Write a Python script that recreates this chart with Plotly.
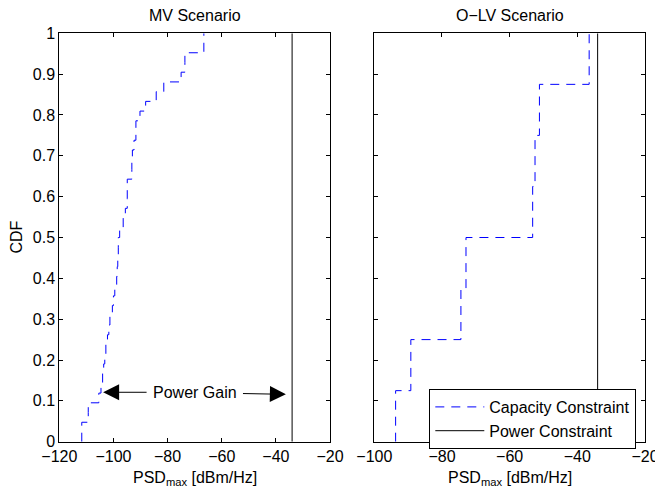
import plotly.graph_objects as go

# ---------------- data ----------------
# MV scenario: sample values of PSD_max (dBm/Hz), read off the empirical CDF
mv_psd = [-111.7, -111.7, -109.3, -109.3, -105.4, -104.6, -104.0, -103.6, -103.2,
          -102.8, -102.2, -101.7, -101.3, -100.4, -100.0, -99.5, -98.8, -98.6,
          -98.4, -98.2, -98.2, -97.7, -96.4, -95.6, -94.9, -94.9, -94.9, -93.2,
          -93.2, -93.0, -92.4, -91.7, -91.7, -90.2, -88.1, -84.2, -81.4, -75.0,
          -73.6, -73.6, -66.6, -66.6]
# O-LV scenario samples
olv_psd = [-93.7, -89.2, -74.4, -72.9, -53.2, -52.5, -51.2, -36.5]
# Power constraint level (dBm/Hz)
power_constraint = -34.0
cdf_limits = [0, 1]

x_ticks_mv = [-120, -100, -80, -60, -40, -20]
x_ticks_olv = [-100, -80, -60, -40, -20]
y_ticks = [0, 0.1, 0.2, 0.3, 0.4, 0.5, 0.6, 0.7, 0.8, 0.9, 1]

# annotation ("Power Gain") positions in data units
gain_text = "Power Gain"
gain_text_pos = (-69.7, 0.12)
gain_left_arrow = ((-103.8, 0.121), (-87.2, 0.121))   # (tip, tail)
gain_right_arrow = ((-36.3, 0.116), (-52.7, 0.118))   # (tip, tail)


def ecdf_stairs(samples):
    s = sorted(samples)
    n = len(s)
    xs = [s[0]] + s
    ys = [0.0] + [(i + 1) / n for i in range(n)]
    return xs, ys


FONT = "Liberation Sans, Arial, Helvetica, sans-serif"
BLUE = "rgb(0,0,255)"
DASH = "9px,7px"

fig = go.Figure()

mx, my = ecdf_stairs(mv_psd)
ox, oy = ecdf_stairs(olv_psd)

fig.add_trace(go.Scatter(x=mx, y=my, mode="lines", line_shape="hv",
                         line=dict(color=BLUE, width=1, dash=DASH),
                         showlegend=False, xaxis="x", yaxis="y"))
fig.add_trace(go.Scatter(x=[power_constraint, power_constraint], y=cdf_limits,
                         mode="lines", line=dict(color="black", width=1),
                         showlegend=False, xaxis="x", yaxis="y"))
fig.add_trace(go.Scatter(x=ox, y=oy, mode="lines", line_shape="hv",
                         line=dict(color=BLUE, width=1, dash=DASH),
                         name="Capacity Constraint", xaxis="x2", yaxis="y2"))
fig.add_trace(go.Scatter(x=[power_constraint, power_constraint], y=cdf_limits,
                         mode="lines", line=dict(color="black", width=1),
                         name="Power Constraint", xaxis="x2", yaxis="y2"))

W, H = 655, 489
L1, R1 = 59.3, 330.0
L2, R2 = 374.3, 645.0
TOP, BOT = 33.3, 441.7

axis_common = dict(showline=True, linecolor="black", linewidth=1, mirror="ticks",
                   ticks="inside", ticklen=4, tickcolor="black", tickwidth=1,
                   showgrid=False, zeroline=False, automargin=False,
                   ticklabeloverflow="allow",
                   tickfont=dict(family=FONT, size=16, color="black"))

fig.update_layout(
    template="none",
    width=W, height=H,
    margin=dict(l=0, r=0, t=0, b=0, pad=0),
    paper_bgcolor="white", plot_bgcolor="white",
    font=dict(family=FONT, size=16, color="black"),
    xaxis=dict(domain=[L1 / W, R1 / W], range=[x_ticks_mv[0], x_ticks_mv[-1]],
               tickvals=x_ticks_mv, anchor="y", **axis_common),
    yaxis=dict(domain=[1 - BOT / H, 1 - TOP / H], range=cdf_limits,
               tickvals=y_ticks, anchor="x", **axis_common),
    xaxis2=dict(domain=[L2 / W, R2 / W], range=[x_ticks_olv[0], x_ticks_olv[-1]],
                tickvals=x_ticks_olv, anchor="y2", **axis_common),
    yaxis2=dict(domain=[1 - BOT / H, 1 - TOP / H], range=cdf_limits,
                tickvals=y_ticks, anchor="x2", showticklabels=False, **axis_common),
    legend=dict(x=429.3 / W, y=1 - 389 / H, xanchor="left", yanchor="top",
                bgcolor="white", bordercolor="black", borderwidth=1,
                font=dict(family=FONT, size=16, color="black"),
                tracegroupgap=0, itemwidth=49),
    showlegend=True,
)

annotations = [
    dict(text="MV Scenario", x=(L1 + R1) / 2 / W, y=1 - 15 / H, xref="paper", yref="paper",
         showarrow=False, font=dict(size=16), xanchor="center", yanchor="middle"),
    dict(text="O\u2212LV Scenario", x=(L2 + R2) / 2 / W, y=1 - 15 / H, xref="paper", yref="paper",
         showarrow=False, font=dict(size=16), xanchor="center", yanchor="middle"),
    dict(text="PSD<sub>max</sub> [dBm/Hz]", x=(L1 + R1) / 2 / W, y=1 - 478 / H,
         xref="paper", yref="paper", showarrow=False, font=dict(size=16),
         xanchor="center", yanchor="middle"),
    dict(text="PSD<sub>max</sub> [dBm/Hz]", x=(L2 + R2) / 2 / W, y=1 - 478 / H,
         xref="paper", yref="paper", showarrow=False, font=dict(size=16),
         xanchor="center", yanchor="middle"),
    dict(text="CDF", x=16 / W, y=1 - (TOP + BOT) / 2 / H, xref="paper", yref="paper",
         showarrow=False, textangle=-90, font=dict(size=16),
         xanchor="center", yanchor="middle"),
    dict(text=gain_text, x=gain_text_pos[0], y=gain_text_pos[1], xref="x", yref="y",
         showarrow=False, font=dict(size=16), xanchor="center", yanchor="middle"),
]
for tip, tail in (gain_left_arrow, gain_right_arrow):
    annotations.append(dict(text="", x=tip[0], y=tip[1], ax=tail[0], ay=tail[1],
                            xref="x", yref="y", axref="x", ayref="y",
                            showarrow=True, arrowhead=2, arrowsize=3.2,
                            arrowwidth=1, arrowcolor="black"))
fig.update_layout(annotations=annotations)

fig.write_html("out.html",
               config={"displayModeBar": False},
               post_script="document.body.style.margin='0';"
                           "document.body.style.overflow='hidden';")
